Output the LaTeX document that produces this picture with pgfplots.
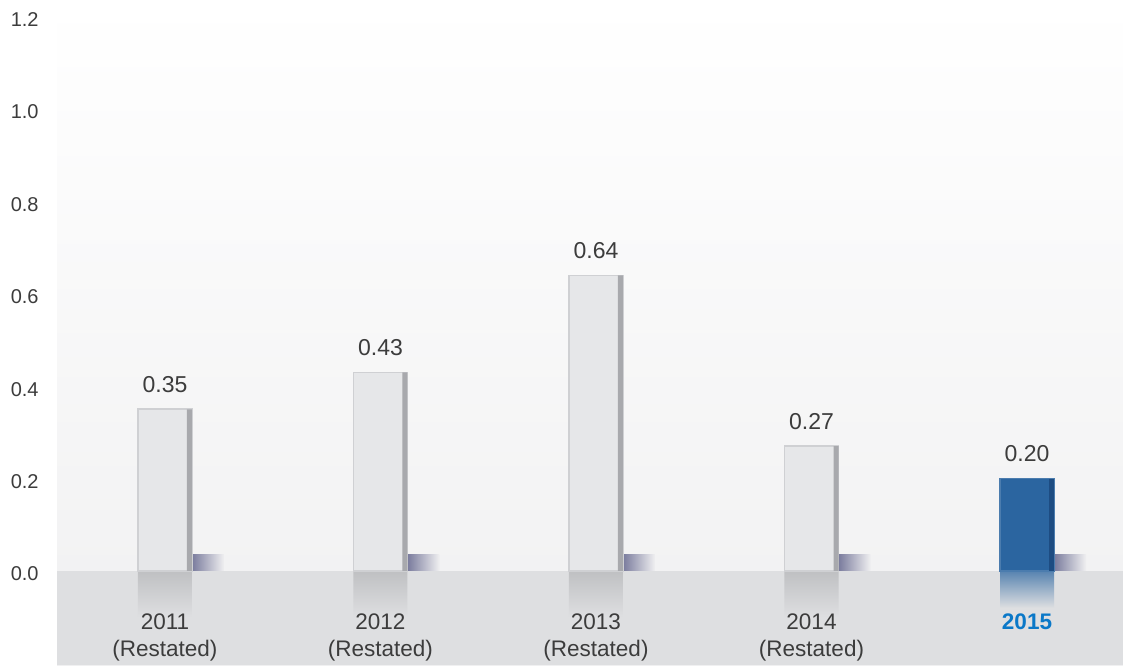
\documentclass[border=0pt]{standalone}
\usepackage{pgfplots}
\pgfplotsset{compat=1.18}
\usepackage{fontspec}
\setmainfont{Liberation Sans}
\definecolor{txt}{HTML}{3C3C3C}
\definecolor{barfill}{HTML}{E6E7E9}
\definecolor{barline}{HTML}{CFD0D3}
\definecolor{baredge}{HTML}{A8A9AD}
\definecolor{bluefill}{HTML}{2B65A0}
\definecolor{blueedge}{HTML}{1D4C82}
\definecolor{bluetxt}{HTML}{0A78C8}
\definecolor{floor}{HTML}{DEDFE1}
\definecolor{bgbot}{HTML}{F0F0F1}
\definecolor{shadow}{HTML}{5C5E88}
\begin{document}
\begin{tikzpicture}
\begin{axis}[
  scale only axis,
  width=533pt, height=332.5pt,
  xmin=-0.501, xmax=4.4455,
  ymin=-0.2035, ymax=1.2359,
  axis on top,
  axis line style={draw=none},
  major tick length=0pt,
  axis background/.style={top color=white, bottom color=bgbot},
  ytick={0,0.2,0.4,0.6,0.8,1.0,1.2},
  yticklabel style={/pgf/number format/.cd, fixed, fixed zerofill, precision=1, assume math mode=true,
     /tikz/.cd, font=\fontsize{10}{12}\selectfont, text=txt, inner sep=0pt, anchor=east, xshift=-9pt, yshift=-1.5pt},
  xtick={0,1,2,3,4},
  xticklabels={{2011\\(Restated)},{2012\\(Restated)},{2013\\(Restated)},{2014\\(Restated)},{\textbf{\textcolor{bluetxt}{2015}}}},
  xticklabel style={align=center, font=\fontsize{11.25}{13.5}\selectfont, text=txt, inner sep=0pt, anchor=north, yshift=26pt},
  clip=false,
]
% floor
\addplot[draw=none, fill=floor] coordinates {(-0.501,0) (4.4455,0) (4.4455,-0.2035) (-0.501,-0.2035)} -- cycle;
% reflections
\addplot[ybar, bar width=27pt, bar shift=0pt, draw=none, top color=barline!80!gray, bottom color=floor] coordinates {(0,-0.1) (1,-0.1) (2,-0.1) (3,-0.1)};
\addplot[ybar, bar width=27pt, bar shift=0pt, draw=none, top color=bluefill!75!floor, bottom color=floor] coordinates {(4,-0.08)};
% shadows (one plot per bar so each gets its own gradient)
\pgfplotsinvokeforeach{0,1,2,3,4}{
  \addplot[ybar, bar width=16pt, bar shift=21.5pt, draw=none, left color=shadow!80!bgbot, right color=bgbot] coordinates {(#1,0.036)};
}
% gray bars
\addplot[ybar, bar width=27pt, bar shift=0pt, fill=barfill, draw=barline, line width=0.8pt,
  nodes near coords, every node near coord/.append style={font=\fontsize{11.5}{13}\selectfont, text=txt, inner sep=0pt, anchor=south, yshift=8pt, /pgf/number format/.cd, fixed, fixed zerofill, precision=2, assume math mode=true}]
  coordinates {(0,0.35) (1,0.43) (2,0.64) (3,0.27)};
\addplot[ybar, bar width=2.5pt, bar shift=12.25pt, fill=baredge, draw=none] coordinates {(0,0.35) (1,0.43) (2,0.64) (3,0.27)};
% blue bar
\addplot[ybar, bar width=27pt, bar shift=0pt, fill=bluefill, draw=bluefill!85!white, line width=0.6pt,
  nodes near coords, every node near coord/.append style={font=\fontsize{11.5}{13}\selectfont, text=txt, inner sep=0pt, anchor=south, yshift=8pt, /pgf/number format/.cd, fixed, fixed zerofill, precision=2, assume math mode=true}]
  coordinates {(4,0.20)};
\addplot[ybar, bar width=2.5pt, bar shift=12.25pt, fill=blueedge, draw=none] coordinates {(4,0.20)};
\end{axis}
\pgfresetboundingbox
\path (current axis.south west) ++(-28.5pt,0) rectangle (current axis.north east);
\end{tikzpicture}
\end{document}
